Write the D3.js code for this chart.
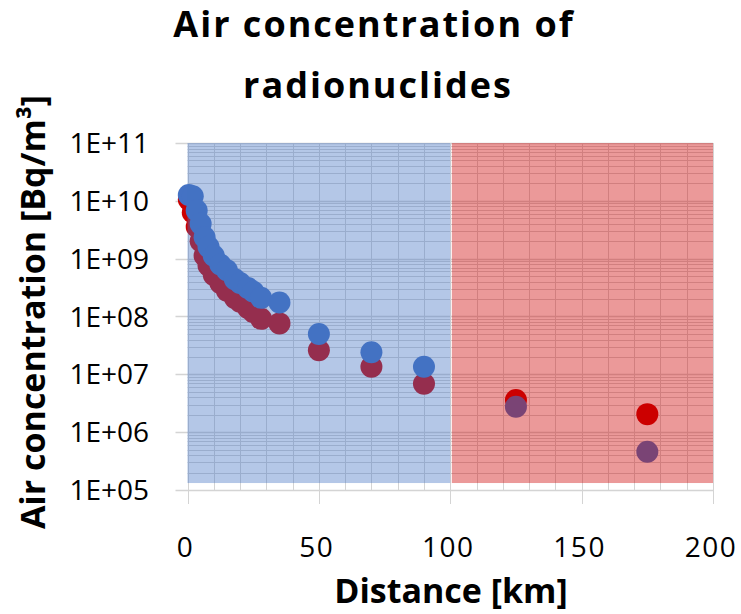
<!DOCTYPE html>
<html>
<head>
<meta charset="utf-8">
<script src="https://cdn.jsdelivr.net/npm/d3@7"></script>
<style>
    body { margin: 0; background: #fff; }
    svg { display: block; font-family: "Open Sans", sans-serif; }
</style>
</head>
<body>
<div id="chart"></div>
<script>
// distances in km (shared by both series)
const distances = [0.5, 2, 3.5, 5, 6.5, 8, 10, 12.5, 15, 18, 20, 23, 25, 28, 35, 50, 70, 90, 125, 175];
// red series, Bq/m3
const redValues = [1.05e10, 6.3e9, 3.55e9, 2.0e9, 1.12e9, 7.6e8, 5.2e8, 3.8e8, 2.8e8, 2.1e8, 1.8e8, 1.4e8, 1.2e8, 9.1e7, 7.6e7, 2.6e7, 1.35e7, 6.9e6, 3.6e6, 2.05e6];
// blue series, Bq/m3
const blueValues = [1.26e10, 1.2e10, 6.8e9, 4.0e9, 2.35e9, 1.6e9, 1.12e9, 7.9e8, 6.3e8, 4.4e8, 3.8e8, 3.1e8, 2.7e8, 2.1e8, 1.75e8, 5.0e7, 2.4e7, 1.35e7, 2.75e6, 4.6e5];

// shaded zones (km ranges)
const zones = [
    { x0: 0, x1: 100, color: "#4472c4" },
    { x0: 100.6, x1: 200, color: "#cc0000" }
];
const zoneBottom = 1.32e5;

const xTicks = [0, 50, 100, 150, 200];
const yTicks = [1e5, 1e6, 1e7, 1e8, 1e9, 1e10, 1e11];
const yTickLabels = ["1E+05", "1E+06", "1E+07", "1E+08", "1E+09", "1E+10", "1E+11"];

const width = 741;
const height = 614;
const marginTop = 143;
const marginRight = 28;
const marginBottom = 124;
const marginLeft = 187.5;

const svg = d3.select("#chart")
    .append("svg")
    .attr("width", width)
    .attr("height", height);

const x = d3.scaleLinear()
    .domain([0, 200])
    .range([marginLeft, width - marginRight]);

const y = d3.scaleLog()
    .domain([1e5, 1e11])
    .range([height - marginBottom, marginTop]);

const gridColor = "#d4d4d4";

// minor horizontal grid (2..9 of each decade)
const minorY = [];
for (let i = 0; i < yTicks.length - 1; i++) {
    for (let k = 2; k <= 9; k++) minorY.push(yTicks[i] * k);
}
svg.append("g")
    .selectAll("line")
    .data(minorY)
    .enter()
    .append("line")
    .attr("x1", x(0))
    .attr("x2", x(200))
    .attr("y1", (d) => Math.round(y(d)) + 0.5)
    .attr("y2", (d) => Math.round(y(d)) + 0.5)
    .attr("stroke", gridColor)
    .attr("stroke-width", 1);

// vertical grid every 10 km, majors get a tick below the axis
svg.append("g")
    .selectAll("line")
    .data(d3.range(0, 201, 10))
    .enter()
    .append("line")
    .attr("x1", (d) => Math.round(x(d)) + 0.5)
    .attr("x2", (d) => Math.round(x(d)) + 0.5)
    .attr("y1", y(1e11))
    .attr("y2", (d) => d % 50 === 0 ? y(1e5) + 14 : y(1e5))
    .attr("stroke", gridColor)
    .attr("stroke-width", 1);

// major horizontal grid, with tick to the left
svg.append("g")
    .selectAll("line")
    .data(yTicks)
    .enter()
    .append("line")
    .attr("x1", x(0) - 12)
    .attr("x2", x(200))
    .attr("y1", (d) => Math.round(y(d)) + 0.5)
    .attr("y2", (d) => Math.round(y(d)) + 0.5)
    .attr("stroke", gridColor)
    .attr("stroke-width", 1.3);

// points: red first, blue on top
const r = 11;
svg.append("g")
    .selectAll("circle")
    .data(distances)
    .enter()
    .append("circle")
    .attr("cx", (d) => x(d))
    .attr("cy", (d, i) => y(redValues[i]))
    .attr("r", r)
    .attr("fill", "#cc0000");

svg.append("g")
    .selectAll("circle")
    .data(distances)
    .enter()
    .append("circle")
    .attr("cx", (d) => x(d))
    .attr("cy", (d, i) => y(blueValues[i]))
    .attr("r", r)
    .attr("fill", "#4472c4");

// translucent zones drawn over the points
svg.append("g")
    .selectAll("rect")
    .data(zones)
    .enter()
    .append("rect")
    .attr("x", (d) => x(d.x0))
    .attr("width", (d) => x(d.x1) - x(d.x0))
    .attr("y", y(1e11))
    .attr("height", y(zoneBottom) - y(1e11))
    .attr("fill", (d) => d.color)
    .attr("fill-opacity", 0.4);

// y tick labels
svg.append("g")
    .selectAll("text")
    .data(yTicks)
    .enter()
    .append("text")
    .attr("x", 149)
    .attr("y", (d) => y(d))
    .attr("dy", "0.36em")
    .attr("text-anchor", "end")
    .style("font-size", "28px")
    .style("fill", "#000")
    .text((d, i) => yTickLabels[i]);

// x tick labels
svg.append("g")
    .selectAll("text")
    .data(xTicks)
    .enter()
    .append("text")
    .attr("x", (d) => x(d) - 2)
    .attr("y", 557)
    .attr("text-anchor", "middle")
    .style("font-size", "28px")
    .style("letter-spacing", "1.5px")
    .style("fill", "#000")
    .text((d) => d);

// title
const title = svg.append("text")
    .attr("text-anchor", "middle")
    .style("font-size", "36px")
    .style("font-weight", "bold")
    .style("letter-spacing", "2px");
title.append("tspan").attr("x", 374).attr("y", 37).text("Air concentration of");
title.append("tspan").attr("x", 378).attr("y", 98).text("radionuclides");

// axis titles
svg.append("text")
    .attr("x", 451)
    .attr("y", 603)
    .attr("text-anchor", "middle")
    .style("font-size", "34px")
    .style("font-weight", "bold")
    .text("Distance [km]");

svg.append("text")
    .attr("transform", "translate(45,312) rotate(-90)")
    .attr("text-anchor", "middle")
    .style("font-size", "34px")
    .style("font-weight", "bold")
    .text("Air concentration [Bq/m³]");
</script>
</body>
</html>
